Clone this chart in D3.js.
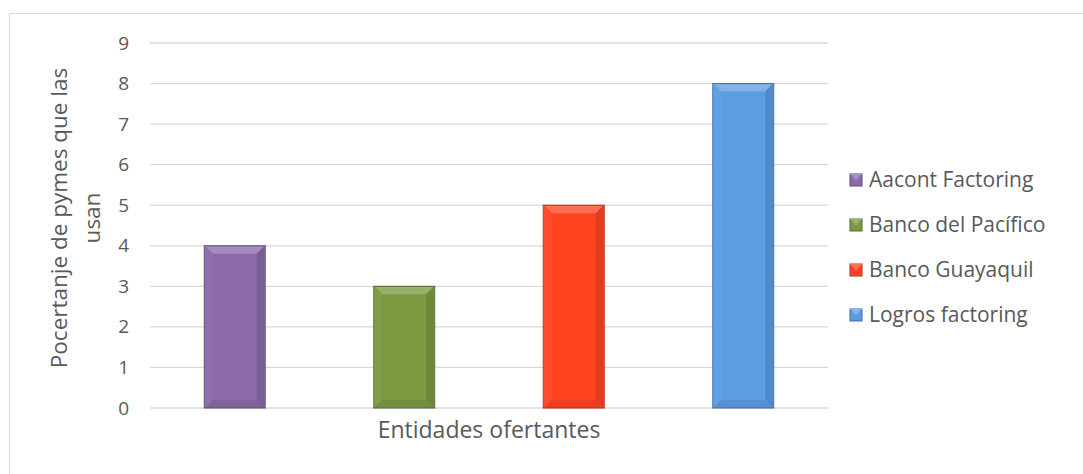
<!DOCTYPE html>
<html>
<head>
<meta charset="utf-8">
<script src="https://cdn.jsdelivr.net/npm/d3@7"></script>
<style>
  body { margin: 0; background: #fff; }
  svg text { font-family: "Open Sans", sans-serif; fill: #595959; }
</style>
</head>
<body>
<svg id="chart" width="1083" height="474"></svg>
<script>
'use strict';

// data
const categories = ['Aacont Factoring', 'Banco del Pacífico', 'Banco Guayaquil', 'Logros factoring'];
const values = [4, 3, 5, 8];
const yTicks = [0, 1, 2, 3, 4, 5, 6, 7, 8, 9];
const colors = ['#8a6aaa', '#7b9a40', '#ff4422', '#5b9ce3'];

// shade a colour lighter (k>0) or darker (k<0)
function shade(c, k) {
  return k > 0 ? d3.interpolateRgb(c, '#fff')(k) : d3.interpolateRgb(c, '#000')(-k);
}

const svg = d3.select('#chart');

// outer chart frame
svg.append('rect')
  .attr('x', 9.5).attr('y', 13.5)
  .attr('width', 1100).attr('height', 500)
  .attr('fill', 'none').attr('stroke', '#d9d9d9');

const x = d3.scaleBand().domain(categories).range([150, 828]).paddingInner(0.646).paddingOuter(0.323);
const y = d3.scaleLinear().domain([0, 9]).range([408, 43]);

// gridlines
svg.append('g').selectAll('line').data(yTicks).join('line')
  .attr('x1', 150).attr('x2', 828)
  .attr('y1', d => y(d)).attr('y2', d => y(d))
  .attr('stroke', '#d9d9d9').attr('stroke-width', 1.3);

// y axis labels
svg.append('g').call(d3.axisLeft(y).tickValues(yTicks).tickSize(0).tickPadding(0))
  .attr('transform', 'translate(129,0)')
  .call(g => g.select('.domain').remove())
  .call(g => g.selectAll('text').attr('font-size', 19).attr('fill', '#595959')
    .style('font-family', '"Open Sans", sans-serif'));

// bevelled bars
const bw = x.bandwidth(), bev = 8;
const bars = svg.append('g').selectAll('g').data(values).join('g')
  .attr('transform', (d, i) => 'translate(' + x(categories[i]) + ',' + y(d) + ')');

bars.each(function(d, i) {
  const g = d3.select(this), h = y(0) - y(d), c = colors[i];
  g.append('rect').attr('width', bw).attr('height', h).attr('fill', c);
  const pts = {
    top: [[0, 0], [bw, 0], [bw - bev, bev], [bev, bev]],
    left: [[0, 0], [bev, bev], [bev, h - bev], [0, h]],
    right: [[bw, 0], [bw, h], [bw - bev, h - bev], [bw - bev, bev]],
    bottom: [[0, h], [bev, h - bev], [bw - bev, h - bev], [bw, h]]
  };
  const fills = { top: shade(c, 0.22), left: shade(c, 0.04), right: shade(c, -0.12), bottom: shade(c, -0.07) };
  Object.keys(pts).forEach(k => {
    g.append('polygon').attr('points', pts[k].join(' ')).attr('fill', fills[k]);
  });
  g.append('rect').attr('x', -0.5).attr('width', bw + 1).attr('height', h)
    .attr('fill', 'none').attr('stroke', shade(c, -0.3)).attr('stroke-width', 1);
});

// axis titles
svg.append('text')
  .attr('transform', 'translate(67,218) rotate(-90)')
  .attr('text-anchor', 'middle').attr('font-size', 22.5)
  .selectAll('tspan').data(['Pocertanje de pymes que las', 'usan']).join('tspan')
  .attr('x', 0).attr('dy', (d, i) => i === 0 ? 0 : 33).text(d => d);

svg.append('text')
  .attr('x', 489).attr('y', 438)
  .attr('text-anchor', 'middle').attr('font-size', 23)
  .text('Entidades ofertantes');

// legend
const legend = svg.append('g').selectAll('g').data(categories).join('g')
  .attr('transform', (d, i) => 'translate(850,' + (174 + i * 45) + ')');
legend.append('rect').attr('width', 12).attr('height', 12)
  .attr('fill', (d, i) => colors[i]).attr('stroke', (d, i) => shade(colors[i], -0.3));
legend.append('polygon').attr('points', '0,0 12,0 6,6').attr('fill', (d, i) => shade(colors[i], 0.25));
legend.append('text').attr('x', 19).attr('y', 13).attr('font-size', 21).text(d => d);
</script>
</body>
</html>
